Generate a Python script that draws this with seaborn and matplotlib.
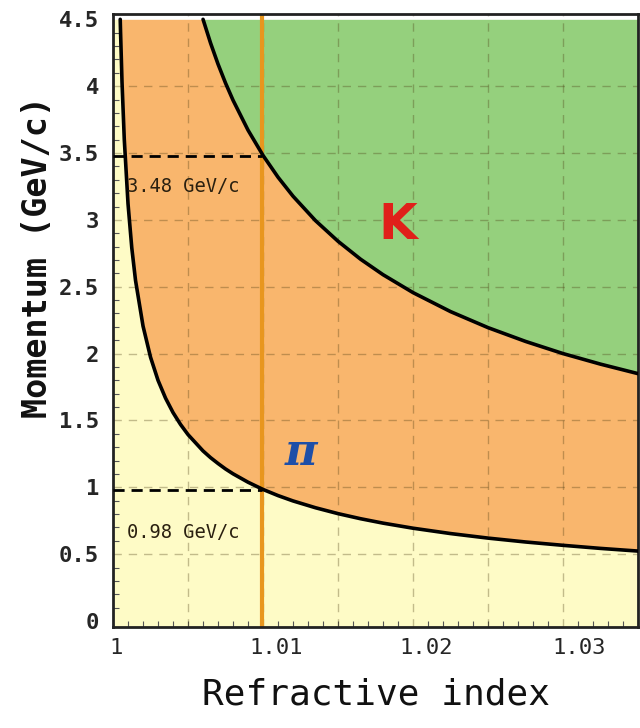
import numpy as np
import pandas as pd
import matplotlib
matplotlib.use("Agg")
import matplotlib.pyplot as plt
import matplotlib.transforms as mtransforms
from matplotlib.ticker import MultipleLocator
import seaborn as sns

# ---- data ----
refractive_index = [1.0, 1.00048, 1.0005, 1.0006, 1.00075, 1.001, 1.00125, 1.0015, 1.002,
                    1.0025, 1.003, 1.0035, 1.004, 1.0045, 1.005, 1.006, 1.0065, 1.007,
                    1.0075, 1.008, 1.009, 1.01, 1.011, 1.012, 1.0135, 1.015, 1.0165,
                    1.018, 1.02, 1.0225, 1.025, 1.0275, 1.03, 1.0325, 1.035]
pion_threshold = [np.nan, 4.50, 4.413, 4.028, 3.603, 3.120, 2.791, 2.547, 2.206,
                  1.973, 1.800, 1.667, 1.559, 1.470, 1.394, 1.272, 1.222, 1.178,
                  1.137, 1.101, 1.038, 0.984, 0.938, 0.898, 0.847, 0.803, 0.765,
                  0.732, 0.694, 0.654, 0.620, 0.591, 0.566, 0.543, 0.523]
kaon_threshold = [np.nan, np.nan, np.nan, np.nan, np.nan, np.nan, np.nan, np.nan, np.nan,
                  np.nan, np.nan, np.nan, np.nan, np.nan, np.nan, 4.500, 4.323, 4.165,
                  4.023, 3.895, 3.671, 3.482, 3.319, 3.177, 2.994, 2.840, 2.706,
                  2.590, 2.456, 2.314, 2.194, 2.091, 2.000, 1.921, 1.850]
selected_index = 1.0099
pion_at_selected = 0.98
kaon_at_selected = 3.48
x_ticks = [1.0, 1.01, 1.02, 1.03]
x_tick_labels = ["1", "1.01", "1.02", "1.03"]
y_ticks = [0, 0.5, 1, 1.5, 2, 2.5, 3, 3.5, 4, 4.5]
y_tick_labels = ["0", "0.5", "1", "1.5", "2", "2.5", "3", "3.5", "4", "4.5"]

df = pd.DataFrame({"n": refractive_index, "pi": pion_threshold, "K": kaon_threshold})

sns.set_theme(style="ticks")
plt.rcParams["font.family"] = ["DejaVu Sans Mono", "DejaVu Sans"]

fig = plt.figure(figsize=(6.4, 7.28), dpi=100)
ax = fig.add_axes([0.1766, 0.1387, 0.8204, 0.8421])

top = 4.5
ymin, ymax = -0.045, 4.54
n = df["n"].to_numpy()
pi_fill = np.nan_to_num(df["pi"].to_numpy(), nan=top)
k_fill = np.nan_to_num(df["K"].to_numpy(), nan=top)

ax.fill_between(n, ymin, pi_fill, color="#FEFBC6", lw=0, zorder=0)
ax.fill_between(n, pi_fill, k_fill, color="#F9B66D", lw=0, zorder=0)
ax.fill_between(n, k_fill, top, color="#95D07D", lw=0, zorder=0)

# grid
for gx in np.arange(1.005, 1.035, 0.005):
    ax.axvline(gx, color="#4a3a10", alpha=0.33, lw=1.0, ls=(0, (6, 5)), zorder=1)
for gy in np.arange(0.5, 4.5, 0.5):
    ax.axhline(gy, color="#4a3a10", alpha=0.33, lw=1.0, ls=(0, (6, 5)), zorder=1)

sns.lineplot(data=df, x="n", y="pi", color="black", lw=2.6, ax=ax, zorder=3)
sns.lineplot(data=df, x="n", y="K", color="black", lw=2.6, ax=ax, zorder=3)

ax.axvline(selected_index, color="#E8961E", lw=3, zorder=2)
ax.plot([1.0, selected_index], [kaon_at_selected, kaon_at_selected], color="black",
        lw=2, ls=(0, (4, 2.5)), zorder=4)
ax.plot([1.0, selected_index], [pion_at_selected, pion_at_selected], color="black",
        lw=2, ls=(0, (4, 2.5)), zorder=4)

ax.text(1.00095, 3.25, "3.48 GeV/c", fontsize=13.5, color="#2a2010", va="center", ha="left")
ax.text(1.00095, 0.66, "0.98 GeV/c", fontsize=13.5, color="#2a2010", va="center", ha="left")
ax.text(1.0190, 2.96, "K", fontsize=36, color="#E0201A", fontfamily="DejaVu Sans",
        fontweight="bold", va="center", ha="center")
ax.text(1.0125, 1.26, "π", fontsize=32, color="#1E4FA8", fontfamily="DejaVu Serif",
        fontweight="bold", style="italic", va="center", ha="center")

ax.set_xlim(1.0, 1.0350)
ax.set_ylim(ymin, ymax)
ax.set_xticks(x_ticks)
ax.set_xticklabels(x_tick_labels, fontsize=16)
ax.set_yticks(y_ticks)
ax.set_yticklabels(y_tick_labels, fontsize=16, fontweight="bold")
ax.xaxis.set_minor_locator(MultipleLocator(0.001))
ax.yaxis.set_minor_locator(MultipleLocator(0.1))
ax.tick_params(axis="x", which="major", direction="in", length=0, pad=8)
ax.tick_params(axis="y", which="major", direction="in", length=0, pad=10)
ax.tick_params(axis="both", which="minor", direction="in", length=4, width=0.8, color="#555555")
for lab, dx in zip(ax.get_xticklabels(), [3, 13, 13, 16]):
    lab.set_transform(lab.get_transform() + mtransforms.ScaledTranslation(dx / 100, 0, fig.dpi_scale_trans))

ax.set_xlabel("Refractive index", fontsize=26, labelpad=14, color="#111111")
ax.set_ylabel("Momentum (GeV/c)", fontsize=24, fontweight="bold", color="#111111")
ax.yaxis.set_label_coords(-0.112, 0.604)

for s in ax.spines.values():
    s.set_color("#222222")
    s.set_linewidth(2)
    s.set_visible(True)

fig.savefig("out.png", dpi=100, facecolor="white")
